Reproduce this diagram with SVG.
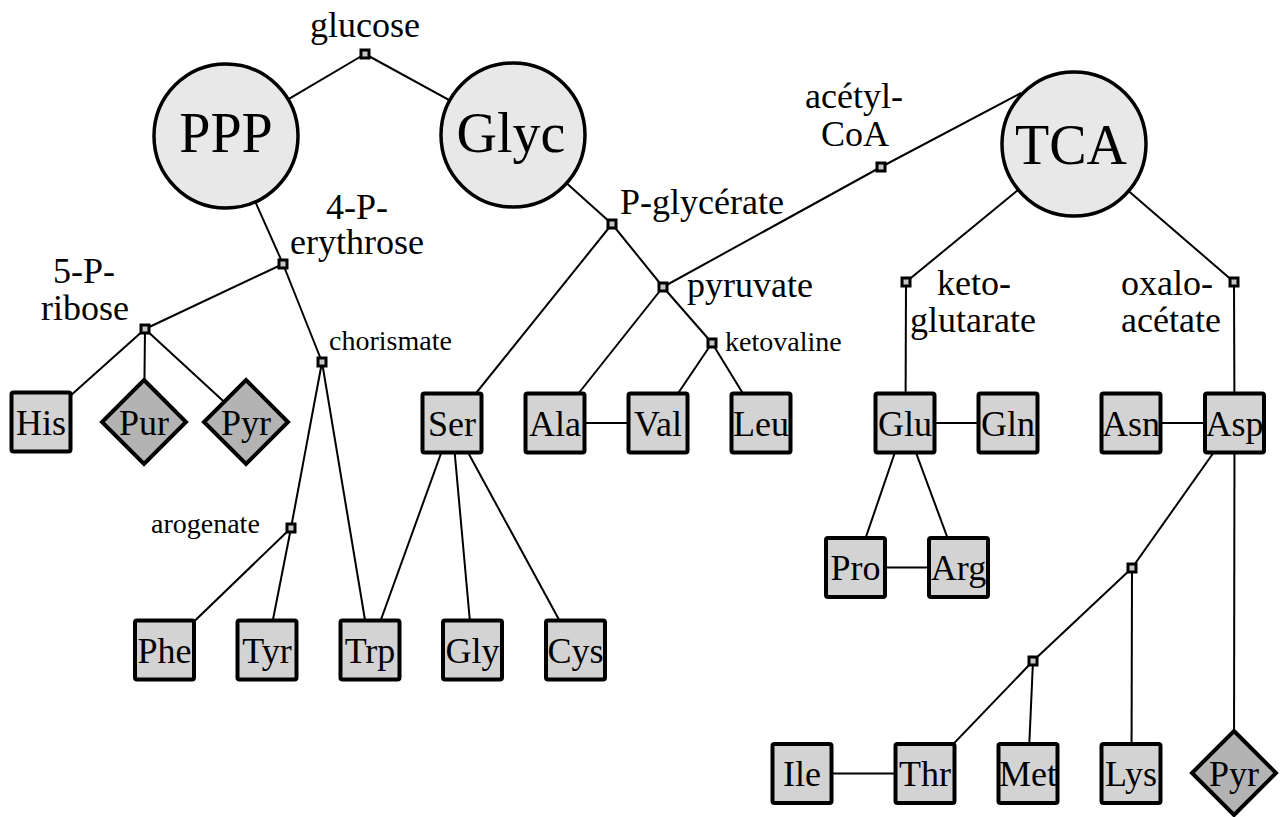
<svg xmlns="http://www.w3.org/2000/svg" width="1281" height="817" viewBox="0 0 1281 817" font-family="'Liberation Serif', 'Times New Roman', Tinos, 'DejaVu Serif', serif">
<style>
.lbl{font-size:36px}
.sm{font-size:28px}
.big{font-size:56px;text-anchor:middle}
.bt{font-size:36px;text-anchor:middle}
.c{fill:#e8e8e8;stroke:#000;stroke-width:3.5}
.b{fill:#d3d3d3;stroke:#000;stroke-width:4}
.d{fill:#b3b3b3;stroke:#000;stroke-width:4;stroke-linejoin:miter}
.n{fill:#c8c8c8;stroke:#000;stroke-width:3}
#edges line{stroke:#000;stroke-width:2}
</style>
<rect width="1281" height="817" fill="#fff"/>
<g id="edges">
<line x1="365" y1="54" x2="226" y2="136"/>
<line x1="365" y1="54" x2="513" y2="135"/>
<line x1="226" y1="136" x2="283" y2="264"/>
<line x1="283" y1="264" x2="145" y2="329"/>
<line x1="283" y1="264" x2="322" y2="362"/>
<line x1="145" y1="329" x2="41" y2="422"/>
<line x1="145" y1="329" x2="144" y2="422"/>
<line x1="145" y1="329" x2="246" y2="422"/>
<line x1="322" y1="362" x2="291" y2="528"/>
<line x1="322" y1="362" x2="370" y2="650"/>
<line x1="291" y1="528" x2="164.5" y2="650"/>
<line x1="291" y1="528" x2="267" y2="650"/>
<line x1="513" y1="135" x2="612" y2="224"/>
<line x1="612" y1="224" x2="452" y2="423"/>
<line x1="612" y1="224" x2="663" y2="287"/>
<line x1="663" y1="287" x2="881" y2="167"/>
<line x1="881" y1="167" x2="1021" y2="93"/>
<line x1="663" y1="287" x2="555" y2="423"/>
<line x1="663" y1="287" x2="712" y2="343"/>
<line x1="712" y1="343" x2="658" y2="423"/>
<line x1="712" y1="343" x2="761" y2="423"/>
<line x1="555" y1="423" x2="658" y2="423"/>
<line x1="452" y1="423" x2="370" y2="650"/>
<line x1="452" y1="423" x2="472.5" y2="650"/>
<line x1="452" y1="423" x2="575.5" y2="650"/>
<line x1="1074" y1="144" x2="906" y2="282"/>
<line x1="906" y1="282" x2="905.5" y2="423"/>
<line x1="1074" y1="144" x2="1234" y2="282"/>
<line x1="1234" y1="282" x2="1234.5" y2="423"/>
<line x1="905" y1="423" x2="1008" y2="423"/>
<line x1="1131" y1="423" x2="1234.5" y2="423"/>
<line x1="905" y1="423" x2="855.5" y2="567.5"/>
<line x1="905" y1="423" x2="958.5" y2="567.5"/>
<line x1="855.5" y1="567.5" x2="958.5" y2="567.5"/>
<line x1="1234.5" y1="423" x2="1132" y2="568"/>
<line x1="1132" y1="568" x2="1033" y2="661"/>
<line x1="1132" y1="568" x2="1131.5" y2="773.5"/>
<line x1="1033" y1="661" x2="925" y2="773.5"/>
<line x1="1033" y1="661" x2="1028" y2="773.5"/>
<line x1="802" y1="773.5" x2="925" y2="773.5"/>
<line x1="1234.5" y1="423" x2="1234" y2="773"/>
</g>
<g id="PPP"><circle class="c" cx="226" cy="136" r="72"/><text class="big" x="226" y="152">PPP</text></g>
<g id="Glyc"><circle class="c" cx="513" cy="135" r="72"/><text class="big" x="511" y="152">Glyc</text></g>
<g id="TCA"><circle class="c" cx="1074" cy="144" r="72"/><text class="big" x="1071" y="164">TCA</text></g>
<g id="glucose"><rect class="n" x="361" y="50" width="8" height="8"/><text class="lbl" x="310" y="37">glucose</text></g>
<g id="erythrose"><rect class="n" x="279" y="260" width="8" height="8"/><text class="lbl" x="326" y="219">4-P-</text><text class="lbl" x="290" y="254">erythrose</text></g>
<g id="ribose"><rect class="n" x="141" y="325" width="8" height="8"/><text class="lbl" x="53" y="283">5-P-</text><text class="lbl" x="41" y="320">ribose</text></g>
<g id="chorismate"><rect class="n" x="318" y="358" width="8" height="8"/><text class="sm" x="329" y="350">chorismate</text></g>
<g id="arogenate"><rect class="n" x="287" y="524" width="8" height="8"/><text class="sm" x="151" y="533">arogenate</text></g>
<g id="pglycerate"><rect class="n" x="608" y="220" width="8" height="8"/><text class="lbl" x="620" y="214">P-glycérate</text></g>
<g id="pyruvate"><rect class="n" x="659" y="283" width="8" height="8"/><text class="lbl" x="687" y="297">pyruvate</text></g>
<g id="ketovaline"><rect class="n" x="708" y="339" width="8" height="8"/><text class="sm" x="725" y="351">ketovaline</text></g>
<g id="acetylcoa"><rect class="n" x="877" y="163" width="8" height="8"/><text class="lbl" x="805" y="108">acétyl-</text><text class="lbl" x="821" y="146">CoA</text></g>
<g id="ketoglutarate"><rect class="n" x="902" y="278" width="8" height="8"/><text class="lbl" x="937" y="295">keto-</text><text class="lbl" x="910" y="332">glutarate</text></g>
<g id="oxaloacetate"><rect class="n" x="1230" y="278" width="8" height="8"/><text class="lbl" x="1121" y="295">oxalo-</text><text class="lbl" x="1121" y="332">acétate</text></g>
<g id="j1"><rect class="n" x="1128" y="564" width="8" height="8"/></g>
<g id="j2"><rect class="n" x="1029" y="657" width="8" height="8"/></g>
<g id="His"><rect class="b" x="11.5" y="392.5" width="59" height="59" rx="2"/><text class="bt" x="41" y="435">His</text></g>
<g id="Pur"><polygon class="d" points="144,380 186,422 144,464 102,422"/><text class="bt" x="144" y="435">Pur</text></g>
<g id="Pyr1"><polygon class="d" points="246,380 288,422 246,464 204,422"/><text class="bt" x="246" y="435">Pyr</text></g>
<g id="Ser"><rect class="b" x="422.5" y="393.5" width="59" height="59" rx="2"/><text class="bt" x="452" y="436">Ser</text></g>
<g id="Ala"><rect class="b" x="525.5" y="393.5" width="59" height="59" rx="2"/><text class="bt" x="555" y="436">Ala</text></g>
<g id="Val"><rect class="b" x="628.5" y="393.5" width="59" height="59" rx="2"/><text class="bt" x="658" y="436">Val</text></g>
<g id="Leu"><rect class="b" x="731.5" y="393.5" width="59" height="59" rx="2"/><text class="bt" x="761" y="436">Leu</text></g>
<g id="Glu"><rect class="b" x="875.5" y="393.5" width="59" height="59" rx="2"/><text class="bt" x="905" y="436">Glu</text></g>
<g id="Gln"><rect class="b" x="978.5" y="393.5" width="59" height="59" rx="2"/><text class="bt" x="1008" y="436">Gln</text></g>
<g id="Asn"><rect class="b" x="1101.5" y="393.5" width="59" height="59" rx="2"/><text class="bt" x="1131" y="436">Asn</text></g>
<g id="Asp"><rect class="b" x="1205" y="393.5" width="59" height="59" rx="2"/><text class="bt" x="1234.5" y="436">Asp</text></g>
<g id="Pro"><rect class="b" x="826" y="538" width="59" height="59" rx="2"/><text class="bt" x="855.5" y="580">Pro</text></g>
<g id="Arg"><rect class="b" x="929" y="538" width="59" height="59" rx="2"/><text class="bt" x="958.5" y="580">Arg</text></g>
<g id="Phe"><rect class="b" x="135" y="620.5" width="59" height="59" rx="2"/><text class="bt" x="164.5" y="662.5">Phe</text></g>
<g id="Tyr"><rect class="b" x="237.5" y="620.5" width="59" height="59" rx="2"/><text class="bt" x="267" y="662.5">Tyr</text></g>
<g id="Trp"><rect class="b" x="340.5" y="620.5" width="59" height="59" rx="2"/><text class="bt" x="370" y="662.5">Trp</text></g>
<g id="Gly"><rect class="b" x="443" y="620.5" width="59" height="59" rx="2"/><text class="bt" x="472.5" y="662.5">Gly</text></g>
<g id="Cys"><rect class="b" x="546" y="620.5" width="59" height="59" rx="2"/><text class="bt" x="575.5" y="662.5">Cys</text></g>
<g id="Ile"><rect class="b" x="772.5" y="744" width="59" height="59" rx="2"/><text class="bt" x="802" y="786">Ile</text></g>
<g id="Thr"><rect class="b" x="895.5" y="744" width="59" height="59" rx="2"/><text class="bt" x="925" y="786">Thr</text></g>
<g id="Met"><rect class="b" x="998.5" y="744" width="59" height="59" rx="2"/><text class="bt" x="1028" y="786">Met</text></g>
<g id="Lys"><rect class="b" x="1101.5" y="744" width="59" height="59" rx="2"/><text class="bt" x="1131" y="786">Lys</text></g>
<g id="Pyr2"><polygon class="d" points="1234,731 1276,773 1234,815 1192,773"/><text class="bt" x="1234" y="786">Pyr</text></g>
</svg>
